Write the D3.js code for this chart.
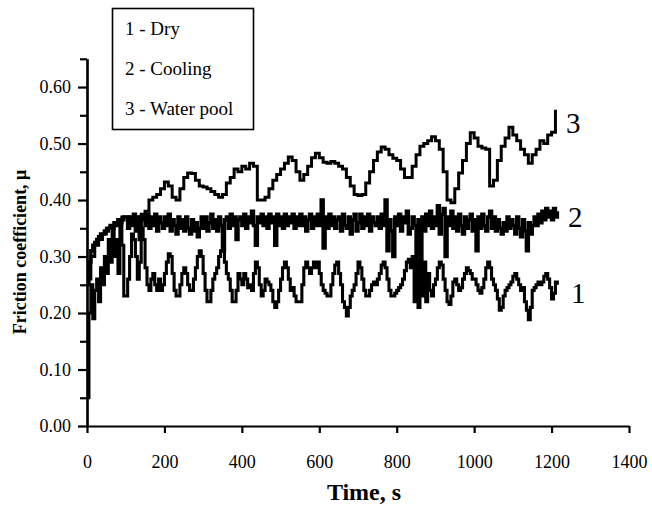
<html>
<head>
<script src="https://d3js.org/d3.v7.min.js"></script>
<style>
body { margin: 0; background: white; }
text { font-family: "Liberation Serif", "Times New Roman", serif; fill: black; }
.line { fill: none; stroke: black; stroke-linejoin: miter; }
</style>
</head>
<body>
<svg id="chart" width="652" height="506"></svg>
<script>
// friction coefficient
// series 1 and 2 sampled every 5 s, series 3 every 10 s
var dryStep = 5, coolStep = 5, poolStep = 10;

var dry = [
  0.05, 0.20, 0.25, 0.19, 0.24, 0.26, 0.22, 0.28, 0.25, 0.30,
  0.27, 0.33, 0.29, 0.35, 0.30, 0.33, 0.27, 0.36, 0.32, 0.23,
  0.23, 0.26, 0.30, 0.34, 0.33, 0.30, 0.26, 0.29, 0.35, 0.33,
  0.28, 0.25, 0.24, 0.26, 0.27, 0.25, 0.24, 0.26, 0.24, 0.25,
  0.27, 0.29, 0.305, 0.30, 0.27, 0.24, 0.23, 0.23, 0.25, 0.27,
  0.28, 0.27, 0.25, 0.24, 0.24, 0.26, 0.28, 0.30, 0.31, 0.30,
  0.27, 0.24, 0.22, 0.22, 0.24, 0.26, 0.27, 0.28, 0.30, 0.31,
  0.31, 0.29, 0.27, 0.26, 0.24, 0.22, 0.22, 0.24, 0.27, 0.26,
  0.25, 0.27, 0.26, 0.245, 0.25, 0.24, 0.27, 0.29, 0.28, 0.25,
  0.23, 0.24, 0.26, 0.255, 0.25, 0.24, 0.22, 0.21, 0.22, 0.24,
  0.26, 0.28, 0.29, 0.28, 0.26, 0.24, 0.245, 0.23, 0.22, 0.22,
  0.22, 0.25, 0.28, 0.29, 0.28, 0.27, 0.28, 0.29, 0.28, 0.29,
  0.27, 0.25, 0.24, 0.235, 0.23, 0.23, 0.25, 0.27, 0.285, 0.29,
  0.27, 0.25, 0.22, 0.21, 0.195, 0.21, 0.23, 0.24, 0.25, 0.27,
  0.29, 0.28, 0.26, 0.24, 0.23, 0.23, 0.24, 0.25, 0.255, 0.25,
  0.26, 0.27, 0.285, 0.29, 0.28, 0.26, 0.24, 0.23, 0.23, 0.235,
  0.24, 0.245, 0.25, 0.26, 0.275, 0.29, 0.295, 0.28, 0.30, 0.22,
  0.29, 0.21, 0.28, 0.23, 0.29, 0.22, 0.27, 0.24, 0.23, 0.25,
  0.26, 0.28, 0.29, 0.285, 0.26, 0.24, 0.22, 0.215, 0.23, 0.255,
  0.26, 0.25, 0.24, 0.245, 0.26, 0.27, 0.28, 0.275, 0.27, 0.26,
  0.26, 0.25, 0.24, 0.235, 0.245, 0.26, 0.28, 0.29, 0.28, 0.26,
  0.25, 0.24, 0.225, 0.205, 0.21, 0.23, 0.24, 0.245, 0.25, 0.255,
  0.265, 0.27, 0.26, 0.25, 0.24, 0.245, 0.22, 0.205, 0.188, 0.21,
  0.24, 0.245, 0.25, 0.255, 0.25, 0.255, 0.265, 0.27, 0.26, 0.245,
  0.225, 0.235, 0.255, 0.25
];

var cooling = [
  0.25, 0.29, 0.31, 0.32, 0.325, 0.33, 0.335, 0.34, 0.34, 0.345,
  0.345, 0.35, 0.355, 0.35, 0.36, 0.355, 0.365, 0.36, 0.365, 0.37,
  0.37, 0.35, 0.37, 0.355, 0.375, 0.345, 0.37, 0.33, 0.365, 0.37,
  0.355, 0.375, 0.35, 0.37, 0.355, 0.375, 0.345, 0.37, 0.36, 0.35,
  0.37, 0.355, 0.375, 0.345, 0.365, 0.355, 0.34, 0.37, 0.35, 0.365,
  0.345, 0.37, 0.35, 0.34, 0.365, 0.345, 0.36, 0.335, 0.35, 0.37,
  0.35, 0.37, 0.345, 0.36, 0.375, 0.35, 0.365, 0.345, 0.37, 0.355,
  0.31, 0.365, 0.37, 0.35, 0.375, 0.355, 0.37, 0.33, 0.365, 0.37,
  0.355, 0.375, 0.35, 0.37, 0.36, 0.38, 0.355, 0.32, 0.37, 0.36,
  0.375, 0.355, 0.37, 0.35, 0.375, 0.36, 0.37, 0.32, 0.375, 0.355,
  0.37, 0.35, 0.375, 0.355, 0.37, 0.36, 0.375, 0.35, 0.37, 0.355,
  0.375, 0.355, 0.37, 0.345, 0.365, 0.375, 0.35, 0.37, 0.355, 0.375,
  0.355, 0.40, 0.315, 0.37, 0.35, 0.375, 0.355, 0.37, 0.35, 0.365,
  0.37, 0.345, 0.375, 0.355, 0.35, 0.37, 0.34, 0.365, 0.375, 0.345,
  0.36, 0.375, 0.35, 0.37, 0.355, 0.375, 0.345, 0.37, 0.36, 0.355,
  0.37, 0.35, 0.375, 0.355, 0.40, 0.31, 0.365, 0.345, 0.30, 0.37,
  0.355, 0.375, 0.345, 0.37, 0.36, 0.38, 0.34, 0.35, 0.37, 0.355,
  0.29, 0.365, 0.27, 0.37, 0.345, 0.375, 0.355, 0.38, 0.35, 0.37,
  0.355, 0.39, 0.34, 0.375, 0.385, 0.30, 0.37, 0.355, 0.38, 0.35,
  0.37, 0.345, 0.375, 0.355, 0.34, 0.37, 0.35, 0.365, 0.375, 0.345,
  0.365, 0.31, 0.37, 0.35, 0.375, 0.355, 0.345, 0.37, 0.38, 0.35,
  0.37, 0.345, 0.365, 0.35, 0.34, 0.36, 0.345, 0.37, 0.35, 0.365,
  0.355, 0.34, 0.37, 0.35, 0.335, 0.365, 0.345, 0.31, 0.36, 0.34,
  0.355, 0.37, 0.355, 0.375, 0.36, 0.38, 0.365, 0.385, 0.37, 0.38,
  0.365, 0.385, 0.37, 0.38
];

var waterPool = [
  0.26, 0.30, 0.32, 0.33, 0.34, 0.35, 0.355, 0.36, 0.365, 0.37,
  0.37, 0.37, 0.37, 0.37, 0.375, 0.38, 0.40, 0.405, 0.41, 0.42,
  0.432, 0.425, 0.405, 0.40, 0.42, 0.44, 0.448, 0.447, 0.435, 0.425,
  0.423, 0.42, 0.415, 0.41, 0.405, 0.41, 0.43, 0.44, 0.455, 0.45,
  0.46, 0.455, 0.465, 0.46, 0.40, 0.40, 0.405, 0.42, 0.435, 0.445,
  0.455, 0.465, 0.476, 0.47, 0.45, 0.435, 0.445, 0.46, 0.475, 0.483,
  0.475, 0.467, 0.465, 0.468, 0.465, 0.46, 0.455, 0.44, 0.425, 0.41,
  0.408, 0.41, 0.43, 0.45, 0.47, 0.485, 0.494, 0.49, 0.48, 0.474,
  0.47, 0.455, 0.44, 0.44, 0.46, 0.48, 0.495, 0.50, 0.505, 0.512,
  0.505, 0.49, 0.45, 0.40, 0.395, 0.42, 0.448, 0.47, 0.50, 0.519,
  0.51, 0.495, 0.492, 0.49, 0.425, 0.435, 0.47, 0.495, 0.51, 0.529,
  0.515, 0.505, 0.49, 0.48, 0.465, 0.48, 0.49, 0.505, 0.50, 0.515,
  0.52, 0.56
];

var xTicks = [0, 200, 400, 600, 800, 1000, 1200, 1400];
var yTicks = [0, 0.1, 0.2, 0.3, 0.4, 0.5, 0.6];
var yMinor = [0.05, 0.15, 0.25, 0.35, 0.45, 0.55, 0.65];
var legendItems = ["1 - Dry", "2 - Cooling", "3 - Water pool"];
var curveLabels = ["1", "2", "3"];

var serif = "'Liberation Serif', 'Times New Roman', serif";
var svg = d3.select("#chart");

var x = d3.scaleLinear().domain([0, 1400]).range([87, 629]);
var y = d3.scaleLinear().domain([0, 0.65]).range([426, 58.8]);

function toPoints(vals, step) {
  return vals.map(function(v, i) { return [i * step, v]; });
}

var line = d3.line()
  .x(function(d) { return x(d[0]); })
  .y(function(d) { return y(d[1]); })
  .curve(d3.curveStepAfter);

var series = [
  {pts: toPoints(dry, dryStep), w: 3.1},
  {pts: toPoints(cooling, coolStep), w: 3.5},
  {pts: toPoints(waterPool, poolStep), w: 3}
];

svg.append("g").selectAll("path")
  .data(series)
  .enter()
  .append("path")
  .attr("class", "line")
  .style("stroke-width", function(d) { return d.w + "px"; })
  .attr("d", function(d) { return line(d.pts); });

// y axis
var yAx = svg.append("g")
  .attr("transform", "translate(87,0)")
  .call(d3.axisLeft(y).tickValues(yTicks).tickFormat(d3.format(".2f")).tickSize(9).tickSizeOuter(0).tickPadding(7))
  .attr("font-family", serif)
  .attr("font-size", 18);
svg.append("g")
  .attr("transform", "translate(87,0)")
  .call(d3.axisLeft(y).tickValues(yMinor).tickFormat("").tickSize(7).tickSizeOuter(0));

// x axis
var xAx = svg.append("g")
  .attr("transform", "translate(0,426)")
  .call(d3.axisBottom(x).tickValues(xTicks).tickFormat(d3.format("d")).tickSize(7).tickSizeOuter(0).tickPadding(22))
  .attr("font-family", serif)
  .attr("font-size", 18);

svg.selectAll(".domain").attr("stroke-width", 2.2);
svg.selectAll(".tick line").attr("stroke-width", 2.2);

// axis titles
svg.append("text")
  .attr("x", 364)
  .attr("y", 500)
  .attr("text-anchor", "middle")
  .attr("font-size", 24)
  .attr("font-weight", "bold")
  .text("Time, s");

svg.append("text")
  .attr("transform", "translate(26,252) rotate(-90)")
  .attr("text-anchor", "middle")
  .attr("font-size", 18)
  .attr("font-weight", "bold")
  .text("Friction coefficient, μ");

// legend box
svg.append("rect")
  .attr("x", 112.5).attr("y", 8.5)
  .attr("width", 141).attr("height", 121)
  .attr("fill", "white")
  .attr("stroke", "black")
  .attr("stroke-width", 1.6);

svg.append("g").selectAll("text")
  .data(legendItems)
  .enter()
  .append("text")
  .attr("x", 125)
  .attr("y", function(d, i) { return 35 + i * 40; })
  .attr("font-size", 19)
  .text(function(d) { return d; });

// curve numbers at line ends
var labelY = [0.218, 0.352, 0.518];
svg.append("g").selectAll("text")
  .data(curveLabels)
  .enter()
  .append("text")
  .attr("x", function(d, i) { return [571, 568, 566][i]; })
  .attr("y", function(d, i) { return y(labelY[i]); })
  .attr("font-size", 29)
  .text(function(d) { return d; });
</script>
</body>
</html>
